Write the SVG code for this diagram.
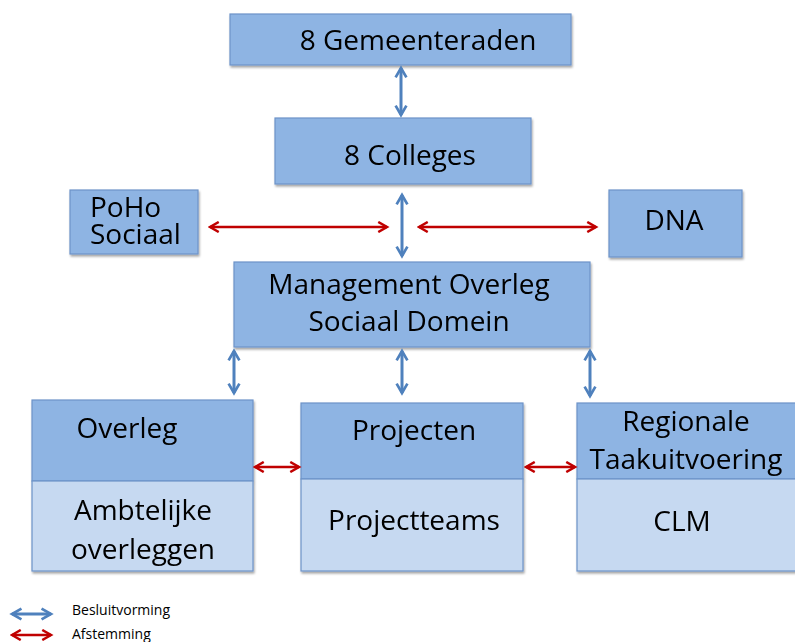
<svg xmlns="http://www.w3.org/2000/svg" width="795" height="642" viewBox="0 0 795 642">
<defs>
<filter id="sh" x="-5%" y="-5%" width="110%" height="115%">
<feDropShadow dx="1" dy="2" stdDeviation="1.2" flood-color="#000" flood-opacity="0.35"/>
</filter>
<marker id="ab" viewBox="0 0 10 10" refX="8" refY="5" markerWidth="4.5" markerHeight="4.5" orient="auto-start-reverse" markerUnits="strokeWidth">
<path d="M1,1 L8,5 L1,9" fill="none" stroke="#4F81BD" stroke-width="2" stroke-linejoin="miter"/>
</marker>
<marker id="ar" viewBox="0 0 10 10" refX="8" refY="5" markerWidth="5" markerHeight="5" orient="auto-start-reverse" markerUnits="strokeWidth">
<path d="M1,1 L8,5 L1,9" fill="none" stroke="#C00000" stroke-width="2" stroke-linejoin="miter"/>
</marker>
</defs>
<style>
.box{fill:#8EB4E3;stroke:#6D93C8;stroke-width:1.2}
.lt{fill:#C6D9F1;stroke:#6D93C8;stroke-width:1.2}
.t{font-family:"Open Sans","Noto Sans",sans-serif;font-size:28px;fill:#000;text-anchor:middle}
.lg{font-family:"Open Sans","Noto Sans",sans-serif;font-size:14px;fill:#000}
.b{stroke:#4F81BD;stroke-width:3;fill:none;marker-start:url(#ab);marker-end:url(#ab)}
.r{stroke:#C00000;stroke-width:2.5;fill:none;marker-start:url(#ar);marker-end:url(#ar)}
</style>
<rect width="795" height="642" fill="#fff"/>
<g id="gemeenteraden" filter="url(#sh)">
<rect class="box" x="230" y="14" width="341" height="51"/>
<text class="t" x="418" y="50">8 Gemeenteraden</text>
</g>
<g id="colleges" filter="url(#sh)">
<rect class="box" x="275" y="118" width="256" height="66"/>
<text class="t" x="410" y="165">8 Colleges</text>
</g>
<g id="poho" filter="url(#sh)">
<rect class="box" x="70" y="190" width="128" height="64"/>
<text class="t" x="90" y="217" style="text-anchor:start">PoHo</text>
<text class="t" x="90" y="244" style="text-anchor:start">Sociaal</text>
</g>
<g id="dna" filter="url(#sh)">
<rect class="box" x="609" y="190" width="133" height="67"/>
<text class="t" x="674" y="230">DNA</text>
</g>
<g id="management" filter="url(#sh)">
<rect class="box" x="234" y="262" width="356" height="85"/>
<text class="t" x="409" y="294">Management Overleg</text>
<text class="t" x="409" y="331">Sociaal Domein</text>
</g>
<g id="overleg" filter="url(#sh)">
<rect class="box" x="32" y="400" width="221" height="81"/>
<rect class="lt" x="32" y="481" width="221" height="90"/>
<text class="t" x="127" y="438">Overleg</text>
<text class="t" x="143" y="520">Ambtelijke</text>
<text class="t" x="143" y="559">overleggen</text>
</g>
<g id="projecten" filter="url(#sh)">
<rect class="box" x="301" y="403" width="222" height="76"/>
<rect class="lt" x="301" y="479" width="222" height="92"/>
<text class="t" x="414" y="440">Projecten</text>
<text class="t" x="414" y="530">Projectteams</text>
</g>
<g id="regionale" filter="url(#sh)">
<rect class="box" x="577" y="403" width="222" height="76"/>
<rect class="lt" x="577" y="479" width="222" height="92"/>
<text class="t" x="686" y="431">Regionale</text>
<text class="t" x="686" y="469">Taakuitvoering</text>
<text class="t" x="682" y="531">CLM</text>
</g>
<g id="connectors">
<line class="b" x1="401" y1="68" x2="401" y2="115"/>
<line class="b" x1="402" y1="195" x2="402" y2="256"/>
<line class="b" x1="234" y1="351" x2="234" y2="393"/>
<line class="b" x1="402" y1="351" x2="402" y2="393"/>
<line class="b" x1="590" y1="351" x2="590" y2="396"/>
<line class="r" x1="210" y1="227" x2="387" y2="227"/>
<line class="r" x1="419" y1="227" x2="596" y2="227"/>
<line class="r" x1="255" y1="467" x2="299" y2="467"/>
<line class="r" x1="526" y1="467" x2="575" y2="467"/>
</g>
<g id="legend">
<line class="b" x1="12" y1="614" x2="51" y2="614"/>
<line class="r" x1="12" y1="635" x2="51" y2="635"/>
<text class="lg" x="72" y="615">Besluitvorming</text>
<text class="lg" x="72" y="639">Afstemming</text>
</g>
</svg>
